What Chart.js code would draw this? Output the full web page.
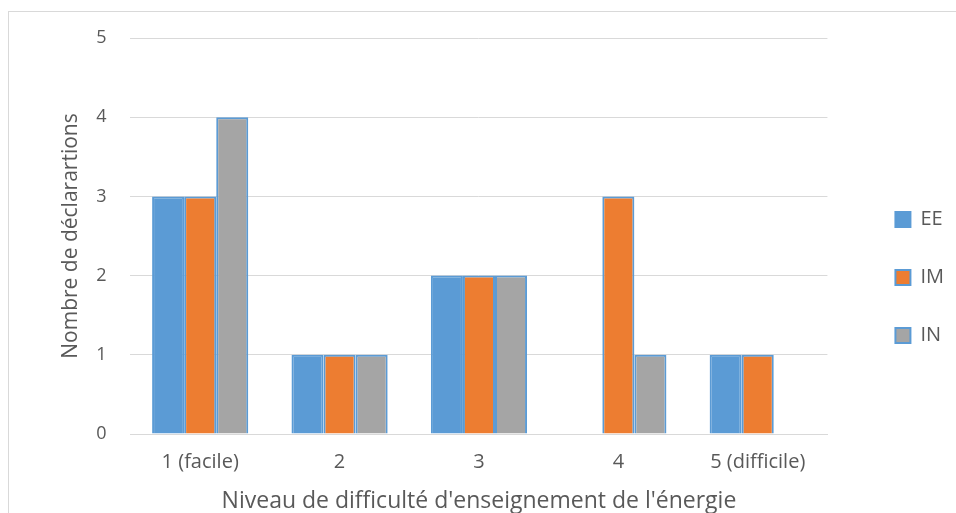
<!DOCTYPE html>
<html>
<head>
<meta charset="utf-8">
<script src="https://cdn.jsdelivr.net/npm/chart.js@4"></script>
<style>
  html, body { margin: 0; padding: 0; background: #fff; }
  #wrap { position: relative; width: 956px; height: 513px; overflow: hidden; }
  #frame { position: absolute; left: 8px; top: 11px; width: 960px; height: 520px; border: 1px solid #d9d9d9; }
  canvas { position: absolute; left: 0; top: 0; }
</style>
</head>
<body>
<div id="wrap">
  <div id="frame"></div>
  <canvas id="difficultyChart" width="956" height="513"></canvas>
</div>
<script>
// bar colors per series, all bars get the same blue outline
const fillColor = ['#5B9BD5', '#ED7D31', '#A5A5A5'];
const outlineColor = '#5B9BD5';

const levels = ['1 (facile)', '2', '3', '4', '5 (difficile)'];
const seriesNames = ['EE', 'IM', 'IN'];
const valuesEE = [3, 1, 2, 0, 1];
const valuesIM = [3, 1, 2, 3, 1];
const valuesIN = [4, 1, 2, 1, 0];
const yTicks = [0, 1, 2, 3, 4, 5];

const font = "'Open Sans', sans-serif";
const textColor = '#595959';

const allValues = [valuesEE, valuesIM, valuesIN];
const datasets = seriesNames.map(function (name, i) {
    return {
        label: name,
        data: allValues[i],
        backgroundColor: fillColor[i],
        borderColor: outlineColor,
        borderWidth: 2,
        categoryPercentage: 0.69,
        barPercentage: 1.0
    };
});

// push the legend a bit away from the plot (chart.js has no legend margin)
const legendOffset = {
    id: 'legendOffset',
    afterLayout: function (chart) {
        chart.legend.left += 30;
        chart.legend.right += 30;
        chart.legend.top += 2;
        chart.legend.bottom += 2;
    }
};

var ctx = document.getElementById('difficultyChart').getContext('2d');
var myChart = new Chart(ctx, {
    type: 'bar',
    data: { labels: levels, datasets: datasets },
    plugins: [legendOffset],
    options: {
        responsive: false,
        animation: false,
        layout: { padding: { left: 58, right: 32, top: 38, bottom: 0 } },
        plugins: {
            legend: {
                position: 'right',
                align: 'center',
                labels: {
                    boxWidth: 15,
                    boxHeight: 15,
                    padding: 38,
                    color: textColor,
                    font: { family: font, size: 20 }
                }
            },
            tooltip: { enabled: false }
        },
        scales: {
            x: {
                grid: { display: false, drawTicks: false },
                border: { display: true, color: '#d9d9d9', width: 1 },
                ticks: { color: textColor, font: { family: font, size: 20, lineHeight: 1 }, padding: 18 },
                title: {
                    display: true,
                    text: "Niveau de difficulté d'enseignement de l'énergie",
                    color: textColor,
                    font: { family: font, size: 23, lineHeight: 1 },
                    padding: { top: 0, bottom: 0 }
                }
            },
            y: {
                min: 0,
                max: 5,
                afterBuildTicks: function (axis) {
                    axis.ticks = yTicks.map(function (v) { return { value: v }; });
                },
                grid: { color: '#d9d9d9', lineWidth: 1, drawTicks: false },
                border: { display: false },
                ticks: { color: textColor, font: { family: font, size: 18 }, padding: 24 },
                title: {
                    display: true,
                    text: 'Nombre de déclarartions',
                    color: textColor,
                    font: { family: font, size: 21 },
                    padding: { top: 0, bottom: -11 }
                }
            }
        }
    }
});
</script>
</body>
</html>
